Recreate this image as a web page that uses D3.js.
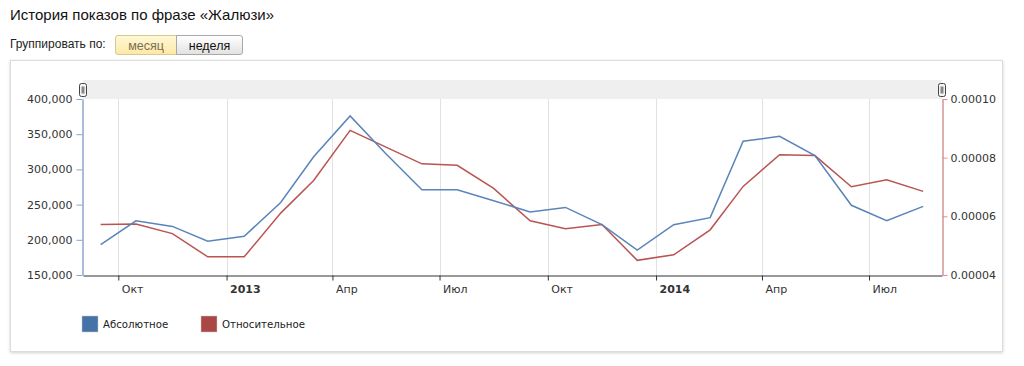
<!DOCTYPE html>
<html>
<head>
<meta charset="utf-8">
<title>История показов по фразе «Жалюзи»</title>
<script src="https://d3js.org/d3.v7.min.js"></script>
<style>
  body { margin: 0; background: #fff; font-family: "Liberation Sans", Arial, sans-serif; }
  #title { position: absolute; left: 10px; top: 6px; font-size: 15px; color: #111; }
  #group { position: absolute; left: 10px; top: 37px; font-size: 12px; color: #222; }
  .btn { position: absolute; top: 35px; height: 20px; line-height: 20px; font-size: 12.5px; text-align: center; box-sizing: border-box; }
  #b1 { left: 115px; width: 62px; border: 1px solid #d8c98f; border-radius: 3px 0 0 3px;
        background: linear-gradient(#fff8d6, #fde9a6); color: #7a6f55; }
  #b2 { left: 176px; width: 67px; border: 1px solid #a8a8a8; border-radius: 0 3px 3px 0;
        background: linear-gradient(#ffffff, #e2e2e2); color: #111; }
  #box { position: absolute; left: 10px; top: 60px; width: 993px; height: 292px; box-sizing: border-box;
         border: 1px solid #dcdcdc; box-shadow: 0 1px 3px rgba(0,0,0,0.18); }
  svg { position: absolute; left: 0; top: 0; }
  .tick text { font-family: "DejaVu Sans", Verdana, sans-serif; font-size: 11px; fill: #333; }
</style>
</head>
<body>
<div id="title">История показов по фразе «Жалюзи»</div>
<div id="group">Группировать по:</div>
<div class="btn" id="b1">месяц</div>
<div class="btn" id="b2">неделя</div>
<div id="box"></div>
<div id="chart"></div>

<script type="text/javascript">
  // monthly points, dated mid-month
  var months = ["2012-09", "2012-10", "2012-11", "2012-12",
    "2013-01", "2013-02", "2013-03", "2013-04", "2013-05", "2013-06",
    "2013-07", "2013-08", "2013-09", "2013-10", "2013-11", "2013-12",
    "2014-01", "2014-02", "2014-03", "2014-04", "2014-05", "2014-06",
    "2014-07", "2014-08"];
  var absolute = [193000, 227000, 219000, 198000,
    205000, 253000, 318000, 376000, 323000, 271000,
    271000, 255500, 239500, 246000, 221500, 185500,
    221500, 231500, 340000, 347000, 319500, 249000,
    227000, 247500];
  var relative = [0.0000572, 0.0000574, 0.0000541, 0.0000462,
    0.0000462, 0.0000611, 0.0000722, 0.0000893, 0.0000837, 0.0000779,
    0.0000774, 0.0000695, 0.0000585, 0.0000558, 0.0000572, 0.0000450,
    0.0000469, 0.0000554, 0.0000702, 0.0000810, 0.0000807, 0.0000701,
    0.0000725, 0.0000685];
  var monthNames = ["Янв", "Фев", "Мар", "Апр", "Май", "Июн",
    "Июл", "Авг", "Сен", "Окт", "Ноя", "Дек"];
  var leftTicks = [150000, 200000, 250000, 300000, 350000, 400000];
  var rightTicks = [0.00004, 0.00006, 0.00008, 0.00010];
  var seriesNames = ["Абсолютное", "Относительное"];

  var colors = ["#4572a7", "#aa4643"];
  var lineColors = ["#5a84ba", "#b95451"];

  var plot = { left: 83, right: 942, top: 99, bottom: 275 };

  var svg = d3.select("#chart").append("svg")
    .attr("width", 1024)
    .attr("height", 366);

  var parse = d3.timeParse("%Y-%m");
  var dates = months.map(function (m) { return d3.timeDay.offset(parse(m), 15); });

  var x = d3.scaleTime()
    .domain([new Date(2012, 8, 1), new Date(2014, 8, 1)])
    .range([plot.left, plot.right]);
  var yL = d3.scaleLinear().domain([150000, 400000]).range([plot.bottom, plot.top]);
  var yR = d3.scaleLinear().domain([0.00004, 0.0001]).range([plot.bottom, plot.top]);

  var xTicks = x.ticks(d3.timeMonth.every(3));

  // navigator band on top
  svg.append("rect")
    .attr("x", plot.left).attr("y", 80)
    .attr("width", plot.right - plot.left).attr("height", plot.top - 80)
    .attr("fill", "#efefef");

  // vertical grid
  svg.append("g").selectAll("line")
    .data(xTicks)
    .enter()
    .append("line")
    .attr("x1", function (d) { return Math.round(x(d)) + 0.5; })
    .attr("x2", function (d) { return Math.round(x(d)) + 0.5; })
    .attr("y1", plot.top)
    .attr("y2", plot.bottom)
    .attr("stroke", "#e2e2e2");

  // lines
  var lineAbs = d3.line()
    .x(function (d, i) { return x(dates[i]); })
    .y(function (d) { return yL(d); });
  var lineRel = d3.line()
    .x(function (d, i) { return x(dates[i]); })
    .y(function (d) { return yR(d); });

  svg.append("path").datum(relative)
    .attr("d", lineRel)
    .attr("fill", "none")
    .attr("stroke", lineColors[1])
    .attr("stroke-width", 1.5);
  svg.append("path").datum(absolute)
    .attr("d", lineAbs)
    .attr("fill", "none")
    .attr("stroke", lineColors[0])
    .attr("stroke-width", 1.5);

  // x axis
  var xAxis = svg.append("g")
    .attr("transform", "translate(0," + (plot.bottom + 0.5) + ")")
    .call(d3.axisBottom(x).tickValues(xTicks).tickSize(5).tickSizeOuter(0)
      .tickFormat(function (d) {
        return d.getMonth() == 0 ? d.getFullYear() : monthNames[d.getMonth()];
      }));
  xAxis.select(".domain").attr("stroke", "#333");
  xAxis.selectAll(".tick line").attr("stroke", "#333");
  xAxis.selectAll(".tick text")
    .attr("text-anchor", "start")
    .attr("x", 3)
    .attr("y", 10)
    .attr("font-weight", function (d) { return d.getMonth() == 0 ? "bold" : null; });

  // left axis
  var left = svg.append("g")
    .attr("transform", "translate(" + (plot.left - 0.5) + ",0)")
    .call(d3.axisLeft(yL).tickValues(leftTicks).tickSize(6).tickSizeOuter(0)
      .tickFormat(d3.format(",")));
  left.select(".domain").attr("stroke", "#8aa6cc").attr("stroke-width", 1.5);
  left.selectAll(".tick line").attr("stroke", "#8aa6cc");
  left.selectAll(".tick text").attr("x", -10);

  // right axis
  var right = svg.append("g")
    .attr("transform", "translate(" + (plot.right + 0.5) + ",0)")
    .call(d3.axisRight(yR).tickValues(rightTicks).tickSize(5).tickSizeOuter(0)
      .tickFormat(d3.format(".5f")));
  right.select(".domain").attr("stroke", "#d49393").attr("stroke-width", 1.5);
  right.selectAll(".tick line").attr("stroke", "#d49393");
  right.selectAll(".tick text").attr("x", 8);

  // handles on the navigator band
  [plot.left, plot.right].forEach(function (hx) {
    svg.append("rect")
      .attr("x", hx - 3.5).attr("y", 83.5)
      .attr("width", 7).attr("height", 13).attr("rx", 2)
      .attr("fill", "#f4f4f4").attr("stroke", "#444");
    svg.append("rect")
      .attr("x", hx - 1.5).attr("y", 86.5)
      .attr("width", 3).attr("height", 7)
      .attr("fill", "#888");
  });

  // legend
  var legend = svg.append("g").selectAll("g")
    .data(seriesNames)
    .enter()
    .append("g")
    .attr("transform", function (d, i) { return "translate(" + (82 + i * 119) + ",316)"; });
  legend.append("rect")
    .attr("width", 16).attr("height", 16)
    .attr("fill", function (d, i) { return colors[i]; })
    .attr("stroke", "#ccc").attr("stroke-width", 0.5);
  legend.append("text")
    .attr("x", 21).attr("y", 12)
    .attr("font-family", "DejaVu Sans, Verdana, sans-serif")
    .attr("font-size", "10.2px")
    .attr("fill", "#222")
    .text(function (d) { return d; });
</script>
</body>
</html>
